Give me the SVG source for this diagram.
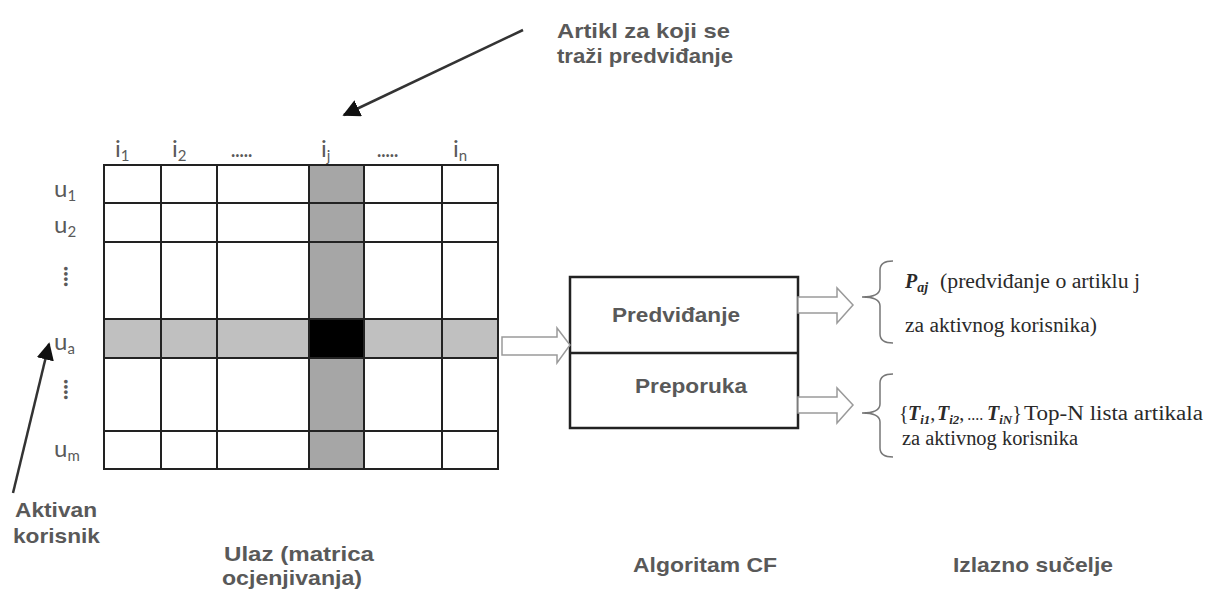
<svg xmlns="http://www.w3.org/2000/svg" width="1207" height="590" viewBox="0 0 1207 590">
<defs>
<style>
.lbl{font-family:"Liberation Sans",Arial,sans-serif;font-weight:bold;fill:#595959}
.idx{font-family:Lato,"Open Sans",sans-serif;fill:#5a5a5a;font-size:24px}
.sub{font-size:15px}
.dots{font-size:18px;font-weight:bold}
.vdots{font-size:22px;font-weight:900}
.grid{stroke:#222;stroke-width:2;fill:none}
.hollow{fill:#fff;stroke:#9a9a9a;stroke-width:1.5}
.brace{fill:none;stroke:#777;stroke-width:1.5}
.serif{font-family:"Liberation Serif","Times New Roman",serif;fill:#2a2a2a;font-size:20px}
.m{font-weight:bold;font-style:italic}
.ptr{stroke:#333;stroke-width:2.5;fill:none}
</style>
<marker id="ah" viewBox="0 0 10 10" refX="9" refY="5" markerWidth="7" markerHeight="7" markerUnits="strokeWidth" orient="auto">
<path d="M0,0 L10,5 L0,10 z" fill="#111"/>
</marker>
</defs>
<rect width="1207" height="590" fill="#fff"/>

<g id="matrix">
<rect x="104" y="319" width="394" height="39" fill="#c0c0c0"/>
<rect x="309" y="165" width="55" height="304" fill="#a6a6a6"/>
<rect x="309" y="319" width="55" height="39" fill="#000"/>
<rect class="grid" x="104" y="165" width="394" height="304"/>
<path class="grid" d="M161,165V469M217,165V469M309,165V469M364,165V469M442,165V469M104,203H498M104,242H498M104,319H498M104,358H498M104,431H498"/>
<g class="idx">
<text x="115" y="157">i<tspan class="sub" dy="4">1</tspan></text>
<text x="172" y="157">i<tspan class="sub" dy="4">2</tspan></text>
<text x="231" y="157" class="dots">.....</text>
<text x="321" y="157">i<tspan class="sub" dy="4">j</tspan></text>
<text x="377" y="157" class="dots">.....</text>
<text x="453" y="157">i<tspan class="sub" dy="4">n</tspan></text>
<text x="54" y="197">u<tspan class="sub" dy="4">1</tspan></text>
<text x="54" y="233">u<tspan class="sub" dy="4">2</tspan></text>
<text x="0" y="0" class="vdots" transform="translate(64,266) rotate(90)">....</text>
<text x="54" y="350">u<tspan class="sub" dy="4">a</tspan></text>
<text x="0" y="0" class="vdots" transform="translate(64,379) rotate(90)">....</text>
<text x="54" y="457">u<tspan class="sub" dy="4">m</tspan></text>
</g>
</g>

<g id="algorithm">
<rect x="570" y="277" width="228" height="151" fill="#fff" stroke="#222" stroke-width="2.5"/>
<line x1="570" y1="353" x2="798" y2="353" stroke="#222" stroke-width="2.5"/>
<text class="lbl" x="612" y="322" font-size="21" textLength="128" lengthAdjust="spacingAndGlyphs">Predviđanje</text>
<text class="lbl" x="635" y="393" font-size="21" textLength="112" lengthAdjust="spacingAndGlyphs">Preporuka</text>
</g>

<g id="output-prediction">
<path class="brace" d="M893,261 Q880,261 880,270 V288 Q880,297 862,297 Q880,297 880,306 V334 Q880,343 893,343"/>
<text class="serif" x="905" y="288"><tspan class="m">P</tspan><tspan class="m" font-size="14" dy="4">aj</tspan></text>
<text class="serif" x="940" y="288" textLength="200" lengthAdjust="spacingAndGlyphs">(predviđanje o artiklu j</text>
<text class="serif" x="905" y="332" textLength="192" lengthAdjust="spacingAndGlyphs">za aktivnog korisnika)</text>
</g>

<g id="output-recommendation">
<path class="brace" d="M893,374 Q880,374 880,383 V404 Q880,413 862,413 Q880,413 880,422 V448 Q880,457 893,457"/>
<text class="serif" y="420"><tspan x="899">{</tspan><tspan x="908" class="m">T</tspan><tspan class="m" font-size="13" dy="4">i1</tspan><tspan dy="-4">,</tspan><tspan x="937" class="m">T</tspan><tspan class="m" font-size="13" dy="4">i2</tspan><tspan dy="-4">,</tspan><tspan font-size="16" dx="3">....</tspan><tspan x="987" class="m">T</tspan><tspan class="m" font-size="13" dy="4">iN</tspan><tspan dy="-4">}</tspan><tspan x="1024" textLength="179" lengthAdjust="spacingAndGlyphs">Top-N lista artikala</tspan></text>
<text class="serif" x="902" y="445" textLength="176" lengthAdjust="spacingAndGlyphs">za aktivnog korisnika</text>
</g>

<g id="connectors">
<polygon class="hollow" points="502,337 557,337 557,328 570,345 557,363 557,355 502,355"/>
<polygon class="hollow" points="798,297 837,297 837,288 853,305 837,323 837,313 798,313"/>
<polygon class="hollow" points="798,397 837,397 837,388 853,405 837,423 837,413 798,413"/>
<line class="ptr" x1="523" y1="30" x2="344" y2="115" marker-end="url(#ah)"/>
<line class="ptr" x1="13" y1="493" x2="49" y2="344" marker-end="url(#ah)"/>
</g>

<g id="annotation-item">
<text class="lbl" x="557" y="38" font-size="21" textLength="173" lengthAdjust="spacingAndGlyphs">Artikl za koji se</text>
<text class="lbl" x="557" y="63" font-size="21" textLength="176" lengthAdjust="spacingAndGlyphs">traži predviđanje</text>
</g>
<g id="annotation-user">
<text class="lbl" x="15" y="517" font-size="21" textLength="82" lengthAdjust="spacingAndGlyphs">Aktivan</text>
<text class="lbl" x="13" y="543" font-size="21" textLength="87" lengthAdjust="spacingAndGlyphs">korisnik</text>
</g>
<g id="captions">
<text class="lbl" x="224" y="561" font-size="20" textLength="150" lengthAdjust="spacingAndGlyphs">Ulaz (matrica</text>
<text class="lbl" x="222" y="585" font-size="20" textLength="140" lengthAdjust="spacingAndGlyphs">ocjenjivanja)</text>
<text class="lbl" x="633" y="572" font-size="21" textLength="144" lengthAdjust="spacingAndGlyphs">Algoritam CF</text>
<text class="lbl" x="953" y="572" font-size="21" textLength="160" lengthAdjust="spacingAndGlyphs">Izlazno sučelje</text>
</g>
</svg>
